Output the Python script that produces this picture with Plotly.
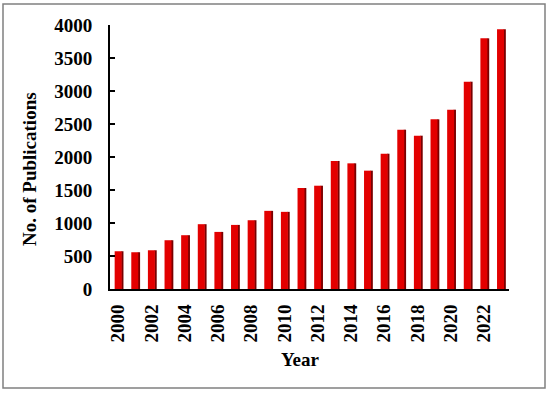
import plotly.graph_objects as go

years = list(range(2000, 2024))
publications = [572, 557, 587, 739, 815, 982, 865, 971, 1042, 1184, 1169,
                1530, 1565, 1940, 1904, 1793, 2050, 2414, 2323, 2571, 2717,
                3141, 3798, 3935]
x_tick_years = list(range(2000, 2023, 2))
y_tick_vals = list(range(0, 4001, 500))

font_family = "Liberation Serif"

# plot-area geometry in pixels (used to place paper-referenced items)
L, R, T, B = 110, 509, 25, 289
PW, PH = R - L, B - T

def px_x(px):
    return (px - L) / PW

def px_y(py):
    return (B - py) / PH

fig = go.Figure()
# side (shadow) face of the pseudo-3D bars
fig.add_trace(go.Bar(x=years, y=publications, width=0.14, offset=0.17,
                     marker=dict(color="#7a0000", line=dict(width=0)),
                     showlegend=False, hoverinfo="skip"))
# front face
fig.add_trace(go.Bar(x=years, y=publications, width=0.42, offset=-0.22,
                     marker=dict(color="#e30000", line=dict(width=0)),
                     showlegend=False))

fig.update_layout(
    width=550, height=393,
    margin=dict(l=L, r=550 - R, t=T, b=393 - B, autoexpand=False),
    paper_bgcolor="white", plot_bgcolor="white",
    barmode="overlay",
    font=dict(family=font_family, color="black"),
    xaxis=dict(
        range=[1999.5, 2023.5],
        tickvals=x_tick_years,
        ticktext=[f"<b>{y}</b>" for y in x_tick_years],
        tickangle=-90,
        ticks="",
        ticklabelstandoff=6,
        automargin=False,
        showline=True, linecolor="black", linewidth=2,
        showgrid=False, zeroline=False,
        tickfont=dict(family=font_family, size=19, color="black"),
    ),
    yaxis=dict(
        range=[0, 4000],
        tickvals=y_tick_vals,
        ticktext=[f"<b>{v}</b>" for v in y_tick_vals],
        ticks="inside", ticklen=5, tickwidth=2, tickcolor="black",
        ticklabelstandoff=12,
        automargin=False,
        showline=True, linecolor="black", linewidth=2,
        showgrid=False, zeroline=False,
        tickfont=dict(family=font_family, size=19, color="black"),
    ),
    annotations=[
        dict(text="<b>Year</b>", xref="paper", yref="paper",
             x=px_x(300), y=px_y(359), showarrow=False,
             xanchor="center", yanchor="middle",
             font=dict(family=font_family, size=19, color="black")),
        dict(text="<b>No. of Publications</b>", xref="paper", yref="paper",
             x=px_x(29), y=px_y(169), showarrow=False, textangle=-90,
             xanchor="center", yanchor="middle",
             font=dict(family=font_family, size=19, color="black")),
    ],
    shapes=[dict(type="rect", xref="paper", yref="paper",
                 x0=px_x(3), x1=px_x(545), y0=px_y(388), y1=px_y(4),
                 line=dict(color="#808080", width=1.5), fillcolor="rgba(0,0,0,0)",
                 layer="below")],
)

fig.write_html("out.html", config={"displayModeBar": False},
               post_script="document.body.style.margin='0';document.body.style.padding='0';")
